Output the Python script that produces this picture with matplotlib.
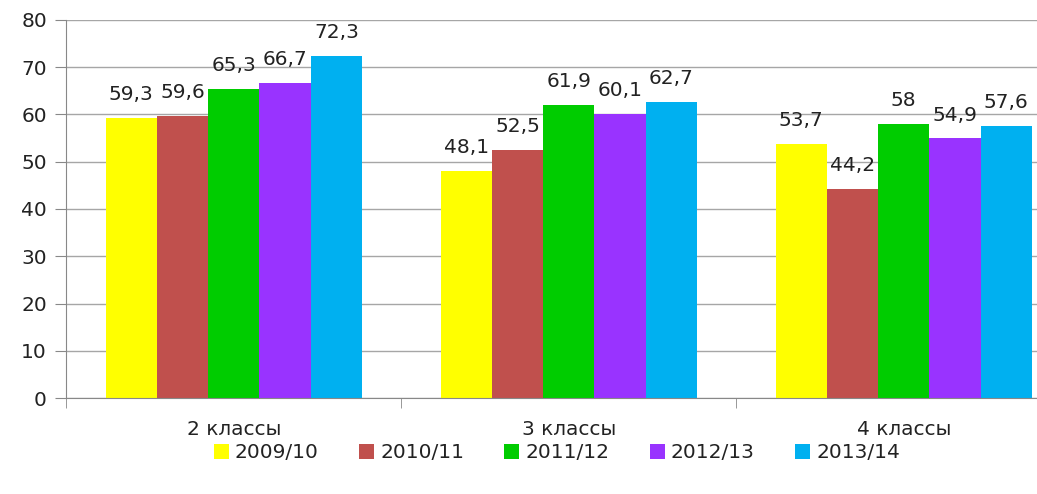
import matplotlib
matplotlib.use("Agg")
import matplotlib.pyplot as plt
import numpy as np

categories = ["2 классы", "3 классы", "4 классы"]
years = ["2009/10", "2010/11", "2011/12", "2012/13", "2013/14"]
values = [
    [59.3, 48.1, 53.7],
    [59.6, 52.5, 44.2],
    [65.3, 61.9, 58.0],
    [66.7, 60.1, 54.9],
    [72.3, 62.7, 57.6],
]
colors = ["#FFFF00", "#C0504D", "#00CC00", "#9933FF", "#00B0F0"]


def fmt(v):
    s = ("%.1f" % v).rstrip("0").rstrip(".")
    return s.replace(".", ",")


plt.rcParams["font.family"] = ["DejaVu Sans"]
fig = plt.figure(figsize=(10.37, 4.94), dpi=100)
ax = fig.add_axes([0.064, 0.194, 0.969, 0.766])

x = np.arange(len(categories))
w = 0.153
for i, (yr, vals, c) in enumerate(zip(years, values, colors)):
    pos = x + (i - 2) * w
    bars = ax.bar(pos, vals, w, color=c, label=yr, zorder=3)
    for b, v in zip(bars, vals):
        ax.annotate(fmt(v), (b.get_x() + b.get_width() / 2, v),
                    xytext=(0, 10), textcoords="offset points",
                    ha="center", va="bottom", fontsize=14.5, color="#222222")

ax.set_xlim(-0.5, 2.5)
ax.set_ylim(0, 80)
ax.set_yticks(range(0, 81, 10))
ax.set_xticks(x)
ax.set_xticklabels(categories)
ax.set_xticks([-0.5, 0.5, 1.5, 2.5], minor=True)
ax.tick_params(axis="x", which="major", length=0, pad=16, labelsize=14.5,
               labelcolor="#222222")
ax.tick_params(axis="x", which="minor", length=7, color="#888888")
ax.tick_params(axis="y", length=8, color="#888888", labelsize=14.5, pad=6,
               labelcolor="#222222")
ax.grid(axis="y", color="#A6A6A6", linewidth=1, zorder=0)
for s in ["top", "right"]:
    ax.spines[s].set_visible(False)
ax.spines["left"].set_color("#888888")
ax.spines["bottom"].set_color("#888888")
ax.spines["bottom"].set_zorder(4)

handles, labels = ax.get_legend_handles_labels()
leg = fig.legend(handles, labels, loc="center", bbox_to_anchor=(0.537, 0.083),
                 ncol=5, frameon=False, fontsize=14.5, handlelength=0.75,
                 handleheight=0.75, handletextpad=0.3, columnspacing=2.0)
for t in leg.get_texts():
    t.set_color("#222222")

fig.savefig("out.png", dpi=100)
